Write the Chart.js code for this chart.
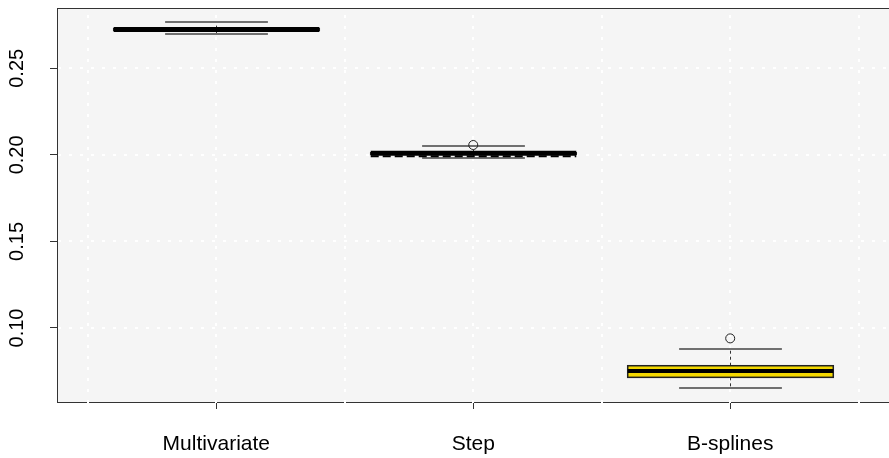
<!DOCTYPE html>
<html>
<head>
<meta charset="utf-8">
<script src="https://cdn.jsdelivr.net/npm/chart.js@4.4.0/dist/chart.umd.min.js"></script>
<style>
html, body { margin: 0; padding: 0; background: #fff; overflow: hidden; }
#wrap { width: 895px; height: 458px; }
</style>
</head>
<body>
<div id="wrap"><canvas id="boxChart" width="895" height="458"></canvas></div>
<script>
// data
const categories = ['Multivariate', 'Step', 'B-splines'];
const whiskerLow = [0.2698, 0.1984, 0.0653];
const q1 = [0.2719, 0.2004, 0.0715];
const median = [0.2724, 0.2009, 0.0752];
const q3 = [0.2729, 0.2012, 0.0782];
const whiskerHigh = [0.2766, 0.2053, 0.0879];
const outliers = [[], [0.2057], [0.0940]];
const boxFill = ['#f5f5f5', '#f5f5f5', '#f4d800'];
const yTicks = [0.10, 0.15, 0.20, 0.25];
const xGrid = [0.5, 1, 1.5, 2, 2.5, 3, 3.5];

const outlierPoints = [];
outliers.forEach((arr, i) => arr.forEach(v => outlierPoints.push({ x: i + 1, y: v })));

const rBox = {
    id: 'rBox',
    beforeDraw(chart) {
        const { ctx, chartArea: a } = chart;
        ctx.save();
        ctx.fillStyle = '#f5f5f5';
        ctx.fillRect(a.left, a.top, a.right - a.left, a.bottom - a.top);
        ctx.restore();
    },
    beforeDatasetsDraw(chart) {
        const { ctx, chartArea: a, scales: { x, y } } = chart;
        ctx.save();
        // frame
        ctx.strokeStyle = '#333';
        ctx.lineWidth = 1;
        ctx.strokeRect(a.left + 0.5, a.top + 0.5, a.right - a.left, a.bottom - a.top);

        // dotted white grid
        ctx.strokeStyle = '#ffffff';
        ctx.lineWidth = 2;
        ctx.setLineDash([3, 8]);
        xGrid.forEach(v => {
            const px = Math.round(x.getPixelForValue(v));
            ctx.beginPath();
            ctx.moveTo(px, a.bottom + 1);
            ctx.lineTo(px, a.top);
            ctx.stroke();
        });
        yTicks.forEach(v => {
            const py = Math.round(y.getPixelForValue(v));
            ctx.beginPath();
            ctx.moveTo(a.left + 1, py);
            ctx.lineTo(a.right, py);
            ctx.stroke();
        });
        ctx.setLineDash([]);

        const unit = x.getPixelForValue(2) - x.getPixelForValue(1);
        const halfBox = unit * 0.4;
        const halfCap = unit * 0.2;

        categories.forEach((c, i) => {
            const cx = Math.round(x.getPixelForValue(i + 1)) + 0.5;
            const yLo = y.getPixelForValue(whiskerLow[i]);
            const yQ1 = y.getPixelForValue(q1[i]);
            const yMed = y.getPixelForValue(median[i]);
            const yQ3 = y.getPixelForValue(q3[i]);
            const yHi = y.getPixelForValue(whiskerHigh[i]);

            // whiskers
            ctx.strokeStyle = '#333';
            ctx.lineWidth = 1;
            ctx.setLineDash([3, 3]);
            ctx.beginPath();
            ctx.moveTo(cx, yQ3); ctx.lineTo(cx, yHi);
            ctx.moveTo(cx, yQ1); ctx.lineTo(cx, yLo);
            ctx.stroke();
            ctx.setLineDash([]);

            // caps
            ctx.strokeStyle = '#707070';
            ctx.lineWidth = 2;
            ctx.beginPath();
            ctx.moveTo(cx - halfCap, Math.round(yHi)); ctx.lineTo(cx + halfCap, Math.round(yHi));
            ctx.moveTo(cx - halfCap, Math.round(yLo)); ctx.lineTo(cx + halfCap, Math.round(yLo));
            ctx.stroke();

            // box
            ctx.fillStyle = boxFill[i];
            ctx.fillRect(cx - halfBox, yQ3, halfBox * 2, yQ1 - yQ3);
            ctx.strokeStyle = '#222';
            ctx.lineWidth = 1.5;
            ctx.strokeRect(cx - halfBox, yQ3, halfBox * 2, yQ1 - yQ3);

            // median
            ctx.strokeStyle = '#000';
            ctx.lineWidth = i === 2 ? 4 : 5;
            ctx.beginPath();
            ctx.moveTo(cx - halfBox, yMed); ctx.lineTo(cx + halfBox, yMed);
            ctx.stroke();

            if (i === 1) {
                // scalloped lower edge of the thin Step box
                ctx.lineWidth = 2;
                ctx.setLineDash([8, 4]);
                ctx.beginPath();
                ctx.moveTo(cx - halfBox, yMed + 3); ctx.lineTo(cx + halfBox, yMed + 3);
                ctx.stroke();
                ctx.setLineDash([]);
            }
        });
        ctx.restore();
    },
    afterDraw(chart) {
        const { ctx, scales: { x, y } } = chart;
        ctx.save();
        ctx.fillStyle = '#000';
        ctx.textAlign = 'center';
        ctx.textBaseline = 'middle';
        ctx.font = '21px "Liberation Sans", Arial, sans-serif';
        x.ticks.forEach(t => {
            ctx.fillText(categories[t.value - 1], x.getPixelForValue(t.value), 444);
        });
        ctx.font = '20px "Liberation Sans", Arial, sans-serif';
        y.ticks.forEach(t => {
            ctx.save();
            ctx.translate(17, y.getPixelForValue(t.value));
            ctx.rotate(-Math.PI / 2);
            ctx.fillText(t.value.toFixed(2), 0, 0);
            ctx.restore();
        });
        ctx.restore();
    }
};

const ctx = document.getElementById('boxChart').getContext('2d');
new Chart(ctx, {
    type: 'scatter',
    data: {
        datasets: [{
            data: outlierPoints,
            pointStyle: 'circle',
            pointRadius: 4.5,
            borderColor: '#222',
            borderWidth: 1,
            backgroundColor: 'rgba(0,0,0,0)'
        }]
    },
    options: {
        responsive: false,
        animation: false,
        layout: { padding: { top: 8, right: 4, left: 0, bottom: 0 } },
        plugins: { legend: { display: false }, tooltip: { enabled: false } },
        scales: {
            x: {
                type: 'linear',
                min: 0.38, max: 3.62,
                afterBuildTicks: s => { s.ticks = [1, 2, 3].map(v => ({ value: v })); },
                afterFit: s => { s.height = 56; },
                ticks: { display: false },
                grid: { drawOnChartArea: false, tickLength: 7, tickColor: '#333', color: '#333' },
                border: { display: false }
            },
            y: {
                min: 0.05725, max: 0.28483,
                afterBuildTicks: s => { s.ticks = yTicks.map(v => ({ value: v })); },
                afterFit: s => { s.width = 57; },
                ticks: { display: false },
                grid: { drawOnChartArea: false, tickLength: 7, tickColor: '#333', color: '#333' },
                border: { display: false }
            }
        }
    },
    plugins: [rBox]
});
</script>
</body>
</html>
